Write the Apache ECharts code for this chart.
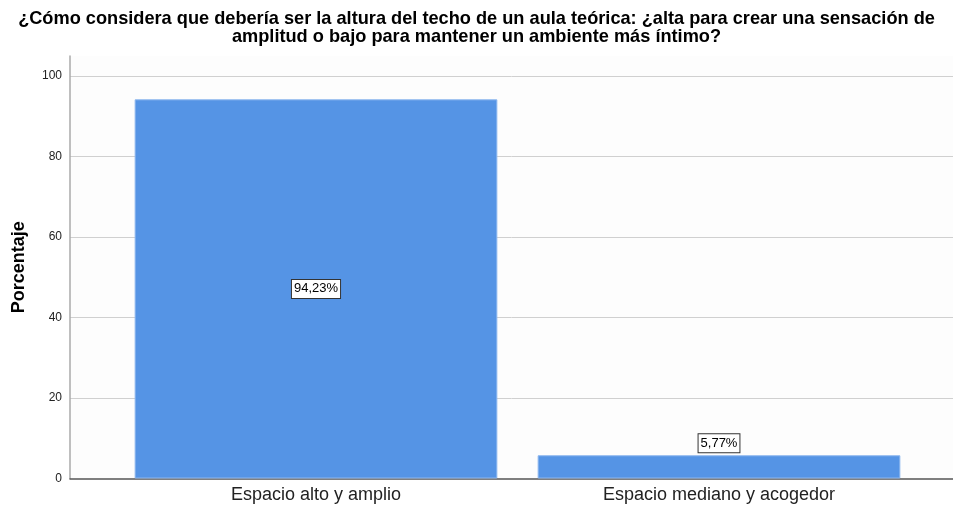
<!DOCTYPE html>
<html><head><meta charset="utf-8">
<script src="https://cdn.jsdelivr.net/npm/echarts@6/dist/echarts.min.js"></script>
<style>html,body{margin:0;padding:0;background:#fff}#c{width:953px;height:508px}</style>
</head><body><div id="c"></div>
<script>
const titleText = '¿Cómo considera que debería ser la altura del techo de un aula teórica: ¿alta para crear una sensación de\namplitud o bajo para mantener un ambiente más íntimo?';
const categories = ['Espacio alto y amplio', 'Espacio mediano y acogedor'];
const values = [94.23, 5.77];
const labels = ['94,23%', '5,77%'];
const yTicks = [0, 20, 40, 60, 80, 100];
const yAxisName = 'Porcentaje';

const FONT = '"Liberation Sans", Arial, sans-serif';
const chart = echarts.init(document.getElementById('c'));
const yMin = 0, yMax = 105;
chart.setOption({
  animation: false,
  backgroundColor: '#ffffff',
  title: {
    text: titleText, left: 'center', top: 5,
    textStyle: { fontFamily: FONT, fontSize: 18.2, fontWeight: 'bold', color: '#000', lineHeight: 18 }
  },
  grid: [
    { left: 70, right: 0, top: 56, bottom: 29.5, show: true, backgroundColor: '#fdfdfd', borderWidth: 0 },
    { left: 114.5, right: 32.5, top: 56, bottom: 29.5 }
  ],
  xAxis: [
    { gridIndex: 0, type: 'value', min: 0, max: 1, show: true,
      axisLine: { show: true, lineStyle: { color: '#555', width: 1.5 } },
      axisTick: { show: false }, axisLabel: { show: false }, splitLine: { show: false } },
    { gridIndex: 1, type: 'category', data: categories,
      axisLine: { show: false }, axisTick: { show: false },
      axisLabel: { fontFamily: FONT, fontSize: 18, color: '#222', margin: 8 } }
  ],
  yAxis: [
    { gridIndex: 0, type: 'value', min: yMin, max: yMax, interval: 20,
      name: yAxisName, nameLocation: 'middle', nameGap: 42,
      nameTextStyle: { fontFamily: FONT, fontSize: 18, fontWeight: 'bold', color: '#000' },
      axisLine: { show: true, lineStyle: { color: '#aaa', width: 1.5 } },
      axisTick: { show: false },
      axisLabel: { fontFamily: FONT, fontSize: 12, color: '#222', margin: 8, showMaxLabel: false,
        formatter: v => (yTicks.indexOf(v) >= 0 ? String(v) : '') },
      splitLine: { show: true, showMinLine: false, showMaxLine: false, lineStyle: { color: '#d0d0d0', width: 1 } } },
    { gridIndex: 1, type: 'value', min: yMin, max: yMax, show: false }
  ],
  series: [{
    type: 'bar', xAxisIndex: 1, yAxisIndex: 1, barWidth: '90%',
    data: values.map((v, i) => ({
      value: v,
      label: i === 0 ? { position: 'inside' } : { position: 'top', distance: 3 }
    })),
    itemStyle: { color: '#5594e5', borderColor: '#8cb6ee', borderWidth: 1 },
    label: {
      show: true, fontFamily: FONT, fontSize: 13, color: '#000',
      backgroundColor: '#fff', borderColor: '#333', borderWidth: 1, padding: [3, 2, 2, 2],
      formatter: p => labels[p.dataIndex]
    }
  }]
});
</script></body></html>
